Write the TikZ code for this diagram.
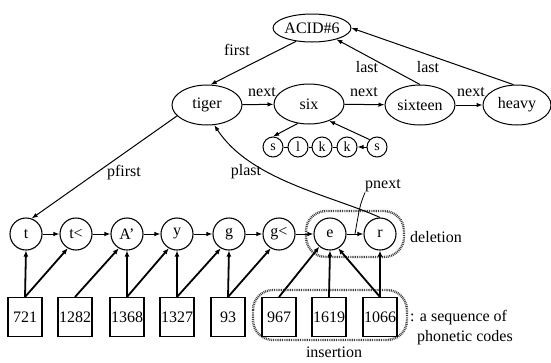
\documentclass[tikz,border=0pt]{standalone}
\usepackage{fontspec}
\setmainfont{Liberation Serif}
\usetikzlibrary{arrows.meta,shapes.geometric}

\tikzset{
  txt/.style={font=\fontsize{16}{19}\selectfont, inner sep=0pt},
  word/.style={ellipse, draw, line width=1pt, inner sep=0pt,
    minimum width=70pt, minimum height=40pt, font=\fontsize{16}{19}\selectfont},
  letter/.style={circle, draw, line width=1pt, inner sep=0pt,
    minimum size=20pt, font=\fontsize{14}{16}\selectfont},
  phone/.style={circle, draw, line width=1.1pt, inner sep=0pt,
    minimum size=32pt, font=\fontsize{16}{19}\selectfont},
  code/.style={rectangle, draw, line width=1.1pt, inner sep=0pt,
    minimum width=34pt, minimum height=39pt, font=\fontsize{16}{19}\selectfont},
  link/.style={line width=1pt, -{Latex[length=6pt,width=4.5pt]}},
  thick link/.style={line width=1.8pt, -{Latex[length=6pt,width=5pt]}},
  region/.style={line width=2.4pt, dash pattern=on 0.9pt off 0.9pt,
    black!75, rounded corners=20pt},
}

\begin{document}
\begin{tikzpicture}[x=1pt,y=-1pt]
\useasboundingbox[fill=white] (0,0) rectangle (551,362);

% dotted regions for deletion and insertion
\draw[region] (306,211) rectangle (404,257);
\draw[region] (253,290) rectangle (407,340);

% word level
\node[word, minimum height=28pt] (acid) at (312,28) {ACID\#6};
\node[word] (tiger) at (207,105) {tiger};
\node[word] (six) at (309,104) {six};
\node[word] (sixteen) at (420,105) {sixteen};
\node[word, minimum width=68pt] (heavy) at (517,105) {heavy};

\draw[link] (acid.220) -- (tiger.80);
\draw[link] (sixteen.north) -- (acid.-25);
\draw[link] (heavy.100) -- (acid.east);
\draw[link] (tiger) -- (six);
\draw[link] (six) -- (sixteen);
\draw[link] (sixteen) -- (heavy);

\node[txt] (lfirst) at (237,50) {first};
\node[txt] (lnext1) at (262,92) {next};
\node[txt] (lnext2) at (364,92) {next};
\node[txt] (lnext3) at (471,92) {next};
\node[txt] (llast1) at (367,67) {last};
\node[txt] (llast2) at (428,67) {last};

% letters of "six"
\node[letter] (s1) at (273,147) {s};
\node[letter] (s2) at (298,147) {l};
\node[letter] (s3) at (322,147) {k};
\node[letter] (s4) at (347,147) {k};
\node[letter] (s5) at (377,147) {s};
\draw[line width=1pt] (s1) -- (s2);
\draw[line width=1pt] (s2) -- (s3);
\draw[line width=1pt] (s3) -- (s4);
\draw[link] (s5) -- (s4);
\draw[link] (six.240) -- (s1.north);
\draw[link] (s5.135) -- (six.-40);

% phonetic symbols
\node[phone] (p1) at (26,234) {t};
\node[phone] (p2) at (76,234) {t<};
\node[phone] (p3) at (127,234) {A'};
\node[phone] (p4) at (177,234) {y};
\node[phone] (p5) at (229,234) {g};
\node[phone] (p6) at (279,234) {g<};
\node[phone] (p7) at (330,234) {e};
\node[phone] (p8) at (380,234) {r};
\draw[link] (p1) -- (p2);
\draw[link] (p2) -- (p3);
\draw[link] (p3) -- (p4);
\draw[link] (p4) -- (p5);
\draw[link] (p5) -- (p6);
\draw[link] (p6) -- (p7);
\draw[link] (p7) -- coordinate[pos=0.5] (ermid) (p8);

\draw[link] (tiger.200) -- (p1.70);
\draw[link] (p8.north) .. controls (330,195) and (250,180) .. (tiger.290);

\node[txt] (lpfirst) at (124,173) {pfirst};
\node[txt] (lplast) at (246,172) {plast};
\node[txt] (lpnext) at (383,186) {pnext};
\draw[line width=0.8pt] (lpnext.south west) .. controls (360,205) .. (ermid);

% phonetic codes
\node[code] (c1) at (25,317) {721};
\node[code] (c2) at (75,317) {1282};
\node[code] (c3) at (127,317) {1368};
\node[code] (c4) at (177,317) {1327};
\node[code] (c5) at (228,317) {93};
\node[code] (c6) at (279,317) {967};
\node[code] (c7) at (329,317) {1619};
\node[code] (c8) at (380,317) {1066};

\draw[thick link] (c1.north) -- (p1.south);
\draw[thick link] (c1.north) -- (p2.240);
\draw[thick link] (c2.north) -- (p3.240);
\draw[thick link] (c3.north) -- (p3.south);
\draw[thick link] (c3.north) -- (p4.240);
\draw[thick link] (c4.north) -- (p4.south);
\draw[thick link] (c4.north) -- (p5.240);
\draw[thick link] (c5.north) -- (p5.south);
\draw[thick link] (c5.north) -- (p6.240);
\draw[thick link] (c6.north) -- (p7.230);
\draw[thick link] (c7.north) -- (p7.south);
\draw[thick link] (c8.north) -- (p7.300);
\draw[thick link] (c8.north) -- (p8.south);

\node[txt, anchor=west] (ldel) at (410,237) {deletion};
\node[txt, anchor=west] (lseq1) at (410,318) {: a sequence of};
\node[txt, anchor=west] (lseq2) at (417,338) {phonetic codes};
\node[txt] (lins) at (334,352) {insertion};
\end{tikzpicture}
\end{document}
